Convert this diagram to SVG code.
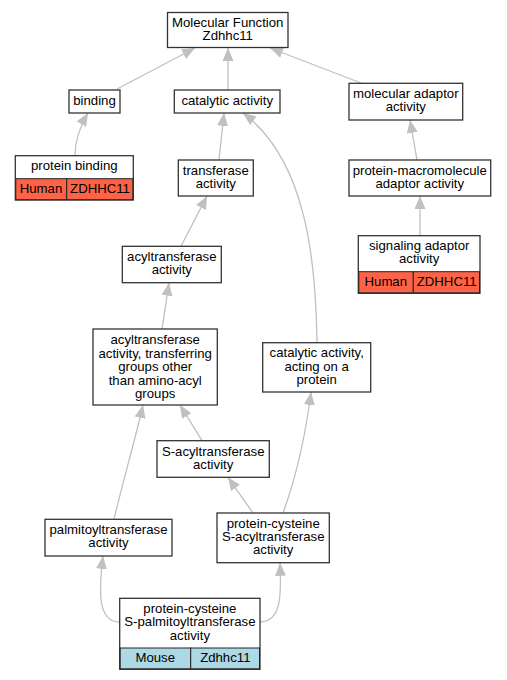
<svg xmlns="http://www.w3.org/2000/svg" width="507" height="680" viewBox="0 0 507 680">
<defs>
<marker id="ah" markerUnits="userSpaceOnUse" markerWidth="14" markerHeight="12" refX="13" refY="5.5" orient="auto">
<path d="M0,0 L13,5.5 L0,11 z" fill="#c0c0c0"/>
</marker>
<style>
.n{fill:#fff;stroke:#333;stroke-width:1.3}
.t{font-family:"Liberation Sans",Arial,sans-serif;font-size:13.2px;fill:#000;text-anchor:middle}
.e{fill:none;stroke:#c0c0c0;stroke-width:1.3;marker-end:url(#ah)}
.h{fill:#ff6347;stroke:#222;stroke-width:1}
.m{fill:#add8e6;stroke:#222;stroke-width:1}
</style>
</defs>
<rect width="507" height="680" fill="#fff"/>
<g id="edges">
<path class="e" d="M117,89 L195,48"/>
<path class="e" d="M228,90 L228,48"/>
<path class="e" d="M361,83 L270,48"/>
<path class="e" d="M75,155.7 C75,140 79,128 88,113"/>
<path class="e" d="M219,160 L224,113"/>
<path class="e" d="M317,342.7 C316,260 306,160 243,113"/>
<path class="e" d="M417,160 L410,120"/>
<path class="e" d="M420,235.7 L420,196"/>
<path class="e" d="M181,246.3 L207,196"/>
<path class="e" d="M162,329 L169,282.7"/>
<path class="e" d="M202,440.7 L180,405"/>
<path class="e" d="M114,519.3 C122,485 135,440 143,405"/>
<path class="e" d="M253,513 L228,477.3"/>
<path class="e" d="M283,513 C295,480 305,440 311,392"/>
<path class="e" d="M119.7,622 C97,622 99,590 103,556"/>
<path class="e" d="M260,622 C283,622 281,590 280,562.7"/>
</g>
<g id="n_mf">
<rect class="n" x="167.5" y="12.5" width="120.5" height="35"/>
<text class="t" x="227.75" y="26.7">Molecular Function</text>
<text class="t" x="227.75" y="39.7">Zdhhc11</text>
</g>
<g id="n_binding">
<rect class="n" x="69" y="90" width="51" height="23"/>
<text class="t" x="94.5" y="104.7">binding</text>
</g>
<g id="n_catalytic">
<rect class="n" x="174.3" y="90" width="105.7" height="23"/>
<text class="t" x="227.2" y="104.7">catalytic activity</text>
</g>
<g id="n_moladaptor">
<rect class="n" x="349" y="83.3" width="113.7" height="36.7"/>
<text class="t" x="405.8" y="98.4">molecular adaptor</text>
<text class="t" x="405.8" y="111.4">activity</text>
</g>
<g id="n_proteinbinding">
<rect class="n" x="15.3" y="155.7" width="118" height="44.3"/>
<rect class="h" x="15.8" y="178.7" width="50.9" height="21"/>
<rect class="h" x="66.7" y="178.7" width="66.1" height="21"/>
<text class="t" x="74.3" y="170.4">protein binding</text>
<text class="t" x="41" y="193">Human</text>
<text class="t" x="100" y="193">ZDHHC11</text>
</g>
<g id="n_transferase">
<rect class="n" x="178.3" y="160" width="75" height="36"/>
<text class="t" x="215.8" y="174.7">transferase</text>
<text class="t" x="215.8" y="187.7">activity</text>
</g>
<g id="n_protmacro">
<rect class="n" x="349" y="160" width="141.7" height="36"/>
<text class="t" x="419.8" y="174.7">protein-macromolecule</text>
<text class="t" x="419.8" y="187.7">adaptor activity</text>
</g>
<g id="n_signaling">
<rect class="n" x="358.3" y="235.7" width="121.7" height="57.6"/>
<rect class="h" x="358.8" y="271.7" width="54.5" height="21.1"/>
<rect class="h" x="413.3" y="271.7" width="66.2" height="21.1"/>
<text class="t" x="419.2" y="250.4">signaling adaptor</text>
<text class="t" x="419.2" y="263.4">activity</text>
<text class="t" x="385.8" y="286">Human</text>
<text class="t" x="446.7" y="286">ZDHHC11</text>
</g>
<g id="n_acyl">
<rect class="n" x="122.3" y="246.3" width="99" height="36.4"/>
<text class="t" x="171.8" y="261.2">acyltransferase</text>
<text class="t" x="171.8" y="274.2">activity</text>
</g>
<g id="n_acylother">
<rect class="n" x="93" y="329" width="124.3" height="76"/>
<text class="t" x="155.2" y="344.2">acyltransferase</text>
<text class="t" x="155.2" y="357.7">activity, transferring</text>
<text class="t" x="155.2" y="371.2">groups other</text>
<text class="t" x="155.2" y="384.7">than amino-acyl</text>
<text class="t" x="155.2" y="398.2">groups</text>
</g>
<g id="n_catprotein">
<rect class="n" x="262.7" y="342.7" width="108" height="49.3"/>
<text class="t" x="316.7" y="357.2">catalytic activity,</text>
<text class="t" x="316.7" y="370.5">acting on a</text>
<text class="t" x="316.7" y="383.8">protein</text>
</g>
<g id="n_sacyl">
<rect class="n" x="157" y="440.7" width="112.3" height="36.6"/>
<text class="t" x="213.2" y="455.7">S-acyltransferase</text>
<text class="t" x="213.2" y="468.7">activity</text>
</g>
<g id="n_palmitoyl">
<rect class="n" x="45" y="519.3" width="127" height="36.7"/>
<text class="t" x="108.5" y="534.4">palmitoyltransferase</text>
<text class="t" x="108.5" y="547.4">activity</text>
</g>
<g id="n_pcsacyl">
<rect class="n" x="217" y="513" width="112.3" height="49.7"/>
<text class="t" x="273.2" y="527.7">protein-cysteine</text>
<text class="t" x="273.2" y="541">S-acyltransferase</text>
<text class="t" x="273.2" y="554.3">activity</text>
</g>
<g id="n_pcspalm">
<rect class="n" x="119.7" y="598.3" width="140.3" height="71"/>
<rect class="m" x="120.2" y="648" width="70.5" height="20.8"/>
<rect class="m" x="190.7" y="648" width="68.8" height="20.8"/>
<text class="t" x="189.9" y="613">protein-cysteine</text>
<text class="t" x="189.9" y="626.3">S-palmitoyltransferase</text>
<text class="t" x="189.9" y="639.6">activity</text>
<text class="t" x="155.2" y="662">Mouse</text>
<text class="t" x="225.3" y="662">Zdhhc11</text>
</g>
</svg>
